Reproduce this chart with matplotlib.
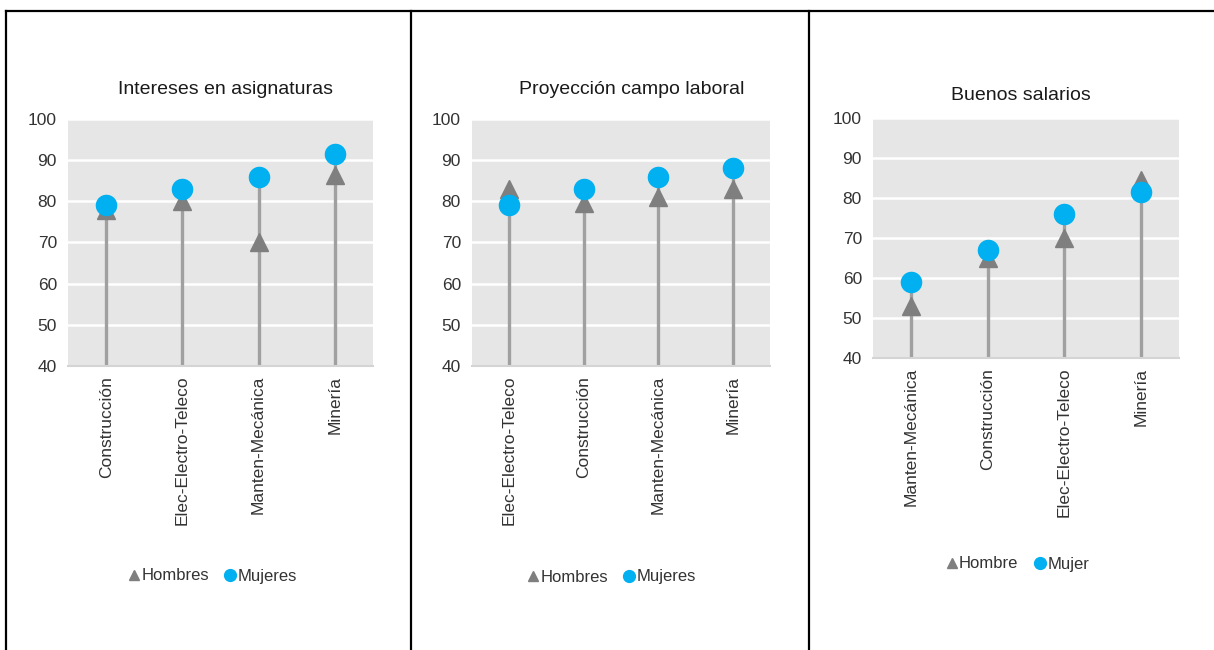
import matplotlib
matplotlib.use("Agg")
import matplotlib.pyplot as plt
from matplotlib.lines import Line2D

plt.rcParams['font.family'] = ['Liberation Sans', 'DejaVu Sans']

# --- data ---------------------------------------------------------------
cats_intereses = ["Construcción", "Elec-Electro-Teleco", "Manten-Mecánica", "Minería"]
hombres_intereses = [78, 80, 70, 86.5]
mujeres_intereses = [79, 83, 86, 91.5]

cats_proyeccion = ["Elec-Electro-Teleco", "Construcción", "Manten-Mecánica", "Minería"]
hombres_proyeccion = [83, 79.5, 81, 83]
mujeres_proyeccion = [79, 83, 86, 88]

cats_salarios = ["Manten-Mecánica", "Construcción", "Elec-Electro-Teleco", "Minería"]
hombre_salarios = [53, 65, 70, 84.5]
mujer_salarios = [59, 67, 76, 81.5]

titles = ["Intereses en asignaturas", "Proyección campo laboral", "Buenos salarios"]
legend_labels = [("Hombres", "Mujeres"), ("Hombres", "Mujeres"), ("Hombre", "Mujer")]
yticks = [40, 50, 60, 70, 80, 90, 100]

# --- style --------------------------------------------------------------
W, H = 1214, 650
BLUE = "#00B0F0"
TRI = "#7F7F7F"
STEM = "#A0A0A0"
BG = "#E6E6E6"
TXT = "#333333"

fig = plt.figure(figsize=(W / 100, H / 100), dpi=100)


def px_axes(left, right, top, bottom):
    return [left / W, 1 - bottom / H, (right - left) / W, (bottom - top) / H]


panels = [
    dict(box=(68, 373, 119, 366), cats=cats_intereses, h=hombres_intereses,
         m=mujeres_intereses, title_xy=(225, 90), leg_xy=(213, 576)),
    dict(box=(472, 770, 119, 366), cats=cats_proyeccion, h=hombres_proyeccion,
         m=mujeres_proyeccion, title_xy=(632, 90), leg_xy=(612, 577)),
    dict(box=(873, 1179, 118, 358), cats=cats_salarios, h=hombre_salarios,
         m=mujer_salarios, title_xy=(1021, 95), leg_xy=(1018, 564)),
]

for i, p in enumerate(panels):
    ax = fig.add_axes(px_axes(*p["box"]))
    ax.set_facecolor(BG)
    x = list(range(len(p["cats"])))
    tops = [max(a, b) for a, b in zip(p["h"], p["m"])]
    ax.vlines(x, 40, tops, color=STEM, lw=2.4, zorder=2)
    ax.plot(x, p["h"], ls="none", marker="^", ms=13, color=TRI, mec=TRI, zorder=3)
    ax.plot(x, p["m"], ls="none", marker="o", ms=14.5, color=BLUE, mec=BLUE, zorder=4)

    ax.set_xlim(-0.5, len(x) - 0.5)
    ax.set_ylim(40, 100)
    ax.set_yticks(yticks)
    ax.yaxis.grid(True, color="white", lw=1.8, zorder=1)
    ax.set_axisbelow(True)
    ax.set_xticks(x)
    ax.set_xticklabels(p["cats"], rotation=90, fontsize=12.5, color=TXT)
    ax.tick_params(axis="x", length=0, pad=7)
    ax.tick_params(axis="y", length=0, pad=8, labelsize=12.5, labelcolor=TXT)
    for s in ("top", "left", "right"):
        ax.spines[s].set_visible(False)
    ax.spines["bottom"].set_color("#D4D4D4")
    ax.spines["bottom"].set_linewidth(1.5)

    tx, ty = p["title_xy"]
    fig.text(tx / W, 1 - ty / H, titles[i], ha="center", va="center",
             fontsize=14, color="#1A1A1A")

    lx, ly = p["leg_xy"]
    handles = [
        Line2D([], [], ls="none", marker="^", ms=7.5, color=TRI),
        Line2D([], [], ls="none", marker="o", ms=8.5, color=BLUE),
    ]
    fig.legend(handles, legend_labels[i], loc="center",
               bbox_to_anchor=(lx / W, 1 - ly / H), ncol=2, frameon=False,
               fontsize=12, handlelength=0.6, handletextpad=0.15,
               columnspacing=1.0, labelcolor=TXT)

# --- table borders --------------------------------------------------------
top_y = 1 - 11 / H
fig.add_artist(Line2D([6 / W, 1], [top_y, top_y], color="black", lw=1.6,
                      transform=fig.transFigure))
for bx in (6, 411, 809):
    fig.add_artist(Line2D([bx / W, bx / W], [0, top_y], color="black", lw=1.6,
                          transform=fig.transFigure))

fig.savefig("out.png", dpi=100, facecolor="white")
